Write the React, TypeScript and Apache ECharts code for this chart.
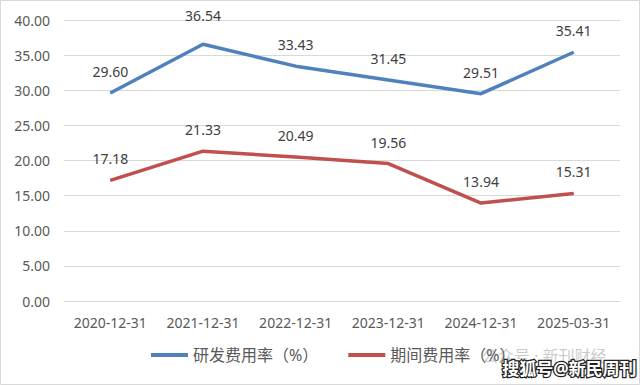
import React, { useEffect, useRef } from "react";
import * as echarts from "echarts";

const categories = ["2020-12-31", "2021-12-31", "2022-12-31", "2023-12-31", "2024-12-31", "2025-03-31"];
const rdRate = [29.6, 36.54, 33.43, 31.45, 29.51, 35.41];
const periodRate = [17.18, 21.33, 20.49, 19.56, 13.94, 15.31];
const seriesNames = ["研发费用率（%）", "期间费用率（%）"];

const FONT = "'Noto Sans', 'Noto Sans CJK SC', sans-serif";

export default function App() {
  const ref = useRef<HTMLDivElement>(null);
  useEffect(() => {
    if (!ref.current) return;
    const chart = echarts.init(ref.current, null, { renderer: "svg" });
    const label = {
      show: true,
      position: "top",
      distance: 14,
      color: "#404040",
      fontSize: 14,
      fontFamily: FONT,
      formatter: (p: any) => Number(p.value).toFixed(2),
    };
    const maxIdx = rdRate.indexOf(Math.max(...rdRate));
    const rdData = rdRate.map((v, i) =>
      i === maxIdx ? { value: v, label: { distance: 21 } } : v
    );
    chart.setOption({
      animation: false,
      backgroundColor: "#ffffff",
      textStyle: { fontFamily: FONT },
      grid: { left: 64, right: 20, top: 20, bottom: 84 },
      legend: {
        bottom: 17,
        left: 146,
        icon: "rect",
        itemWidth: 37,
        itemHeight: 4,
        itemGap: 30,
        textStyle: { color: "#595959", fontSize: 16, fontFamily: FONT },
        data: seriesNames,
      },
      xAxis: {
        type: "category",
        data: categories,
        boundaryGap: true,
        axisLine: { show: true, lineStyle: { color: "#d9d9d9" } },
        axisTick: { show: false },
        axisLabel: { color: "#595959", fontSize: 14, fontFamily: FONT, margin: 14, interval: 0 },
      },
      yAxis: {
        type: "value",
        min: 0,
        max: 40,
        interval: 5,
        axisLine: { show: false },
        axisTick: { show: false },
        splitLine: { lineStyle: { color: "#d9d9d9", width: 1 } },
        axisLabel: {
          color: "#595959",
          fontSize: 14,
          fontFamily: FONT,
          margin: 14,
          formatter: (v: number) => v.toFixed(2),
        },
      },
      series: [
        {
          name: seriesNames[0],
          type: "line",
          data: rdData,
          symbol: "circle",
          symbolSize: 1,
          showSymbol: true,
          lineStyle: { color: "#4f81bd", width: 3.5 },
          itemStyle: { color: "#4f81bd" },
          label,
        },
        {
          name: seriesNames[1],
          type: "line",
          data: periodRate,
          symbol: "circle",
          symbolSize: 1,
          showSymbol: true,
          lineStyle: { color: "#c0504d", width: 3.5 },
          itemStyle: { color: "#c0504d" },
          label,
        },
      ],
      graphic: [
        {
          type: "rect",
          shape: { x: 0.5, y: 0.5, width: 639, height: 384 },
          style: { fill: "none", stroke: "#d9d9d9", lineWidth: 1 },
          silent: true,
        },
        {
          type: "text",
          left: 482,
          top: 348,
          style: {
            text: "公众号 · 新刊财经",
            fill: "rgba(150,150,150,0.5)",
            fontSize: 16,
            fontFamily: FONT,
          },
          silent: true,
        },
        {
          type: "text",
          left: 501,
          top: 359,
          style: {
            text: "搜狐号@新民周刊",
            fill: "#ffffff",
            stroke: "#222222",
            lineWidth: 2.5,
            fontSize: 17,
            fontWeight: "bold",
            fontFamily: FONT,
          },
          silent: true,
        },
      ],
    });
    return () => chart.dispose();
  }, []);
  return (
    <div
      ref={ref}
      style={{ position: "absolute", left: 0, top: 0, width: 640, height: 385 }}
    />
  );
}
